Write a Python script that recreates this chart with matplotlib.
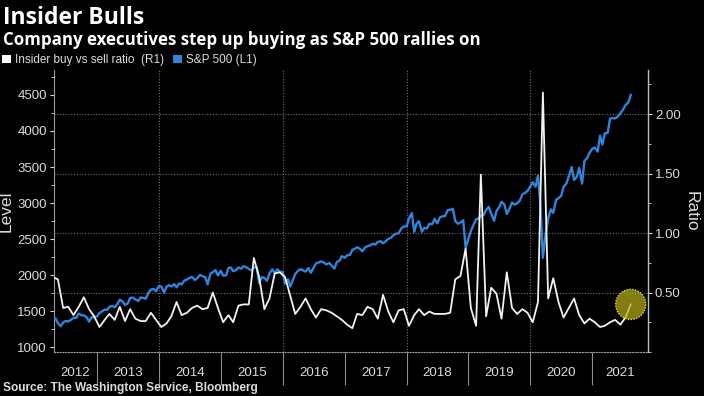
import matplotlib
matplotlib.use("Agg")
import matplotlib.pyplot as plt
from matplotlib.patches import Patch
import pandas as pd

# S&P 500 level, sampled on the 1st and 15th of each month (Apr 2012 - Aug 2021)
sp_2012 = [1408, 1370, 1398, 1330, 1290, 1342, 1362, 1356, 1379, 1405, 1406, 1465,
           1441, 1440, 1412, 1353, 1416, 1413]
sp_2013 = [1426, 1472, 1498, 1520, 1515, 1560, 1569, 1552, 1598, 1658, 1631, 1585,
           1606, 1682, 1686, 1661, 1640, 1688, 1682, 1670, 1757, 1798, 1806, 1775]
sp_2014 = [1848, 1840, 1755, 1838, 1859, 1841, 1872, 1830, 1884, 1870, 1924, 1937,
           1960, 1973, 1931, 1955, 2003, 1984, 1972, 1870, 2018, 2040, 2068, 1995]
sp_2015 = [2059, 1992, 1995, 2097, 2105, 2053, 2068, 2106, 2086, 2122, 2107, 2084,
           2063, 2107, 2104, 1890, 1972, 1960, 1920, 2023, 2079, 2023, 2080, 2043]
sp_2016 = [2044, 1880, 1940, 1840, 1932, 2015, 2060, 2081, 2065, 2047, 2097, 2030,
           2099, 2161, 2174, 2190, 2171, 2147, 2168, 2133, 2090, 2180, 2199, 2262]
sp_2017 = [2239, 2274, 2279, 2349, 2364, 2385, 2363, 2329, 2384, 2400, 2412, 2433,
           2423, 2459, 2470, 2440, 2472, 2500, 2519, 2553, 2575, 2579, 2648, 2675]
sp_2018 = [2674, 2786, 2860, 2600, 2714, 2747, 2600, 2656, 2648, 2711, 2705, 2779,
           2718, 2798, 2816, 2818, 2902, 2905, 2920, 2750, 2712, 2730, 2760, 2380]
sp_2019 = [2507, 2610, 2704, 2775, 2784, 2822, 2834, 2905, 2946, 2850, 2752, 2887,
           2942, 3014, 2980, 2848, 2926, 3007, 2977, 2996, 3038, 3120, 3141, 3168]
sp_2020 = [3231, 3289, 3226, 3380, 2954, 2240, 2585, 2783, 2912, 2863, 3044, 3066,
           3100, 3226, 3271, 3372, 3500, 3320, 3363, 3488, 3270, 3585, 3622, 3695]
sp_2021 = [3756, 3768, 3714, 3934, 3811, 3968, 3973, 4170, 4181, 4173, 4204, 4246,
           4298, 4360, 4395, 4500]

# Insider buy vs sell ratio, monthly (Apr 2012 - Aug 2021)
ratio_2012 = [0.63, 0.61, 0.37, 0.38, 0.31, 0.38, 0.46, 0.36, 0.30]
ratio_2013 = [0.21, 0.27, 0.32, 0.27, 0.38, 0.26, 0.36, 0.28, 0.26, 0.26, 0.33, 0.27]
ratio_2014 = [0.21, 0.24, 0.30, 0.42, 0.31, 0.33, 0.37, 0.39, 0.36, 0.37, 0.50, 0.37]
ratio_2015 = [0.25, 0.31, 0.25, 0.39, 0.40, 0.40, 0.79, 0.63, 0.36, 0.45, 0.66, 0.67]
ratio_2016 = [0.63, 0.47, 0.32, 0.38, 0.45, 0.36, 0.29, 0.36, 0.35, 0.33, 0.30, 0.27]
ratio_2017 = [0.23, 0.20, 0.32, 0.31, 0.38, 0.36, 0.28, 0.48, 0.34, 0.25, 0.35, 0.36]
ratio_2018 = [0.22, 0.31, 0.36, 0.31, 0.34, 0.32, 0.32, 0.32, 0.33, 0.61, 0.64, 0.87]
ratio_2019 = [0.37, 0.22, 1.49, 0.30, 0.54, 0.49, 0.28, 0.67, 0.37, 0.32, 0.36, 0.33]
ratio_2020 = [0.25, 0.42, 2.18, 0.45, 0.62, 0.42, 0.29, 0.37, 0.45, 0.31, 0.24, 0.28]
ratio_2021 = [0.25, 0.21, 0.22, 0.25, 0.27, 0.23, 0.29, 0.40]

years = list(range(2012, 2022))

sp500 = (sp_2012 + sp_2013 + sp_2014 + sp_2015 + sp_2016 + sp_2017 + sp_2018
         + sp_2019 + sp_2020 + sp_2021)
ratio = (ratio_2012 + ratio_2013 + ratio_2014 + ratio_2015 + ratio_2016 + ratio_2017
         + ratio_2018 + ratio_2019 + ratio_2020 + ratio_2021)

sp_dates = pd.date_range("2012-04-01", "2021-08-31", freq="SMS")
ratio_dates = pd.date_range("2012-04-01", "2021-08-01", freq="MS") + pd.Timedelta(days=14)

BG = "black"
TXT = "#dcdcdc"
GRID = "#6e6e6e"
BLUE = "#3184dc"

plt.rcParams["font.family"] = ["Liberation Sans Narrow", "Liberation Sans", "DejaVu Sans"]

fig = plt.figure(figsize=(7.04, 3.96), dpi=100, facecolor=BG)
ax = fig.add_axes([54 / 704, 1 - 352 / 396, (648 - 54) / 704, (352 - 70) / 396])
ax.set_facecolor(BG)
ax2 = ax.twinx()

# S&P 500 on the left axis
ax.plot(sp_dates, sp500, color=BLUE, lw=1.7, zorder=3)
ax.set_ylim(931, 4847)
ax.set_yticks(range(1000, 5000, 500))
ax.set_yticks(range(1250, 4850, 500), minor=True)
ax.set_ylabel("Level", color=TXT, fontsize=12.5)
ax.yaxis.set_label_coords(-0.068, 0.5)

# ratio on the right axis
ax2.plot(ratio_dates, ratio, color="#f2f2f2", lw=1.3, zorder=3)
ax2.set_ylim(0, 2.37)
ax2.set_yticks([0.5, 1.0, 1.5, 2.0])
ax2.set_yticks([0.0, 0.25, 0.75, 1.25, 1.75, 2.25], minor=True)
ax2.set_yticklabels(["0.50", "1.00", "1.50", "2.00"])
ax2.set_ylabel("Ratio", color=TXT, fontsize=12.5, rotation=270, va="center")
ax2.yaxis.set_label_coords(1.072, 0.5)
ax2.grid(axis="y", which="major", color=GRID, lw=0.8, linestyle=(0, (1, 1.5)))

# highlight the latest reading
ax2.scatter([ratio_dates[-1]], [ratio[-1]], s=470, facecolor=(0.71, 0.68, 0.1, 0.72),
            edgecolor="#e2d840", linewidth=1.0, linestyle=(0, (1, 1)), zorder=5)

# x axis: year labels centred in each year, separators at year starts
x_start = pd.Timestamp("2012-04-22")
x_end = pd.Timestamp("2021-11-25")
ax.set_xlim(x_start, x_end)
year_starts = [pd.Timestamp(f"{y}-01-01") for y in years]
label_pos = []
for y in years:
    a = max(pd.Timestamp(f"{y}-01-01"), x_start)
    b = min(pd.Timestamp(f"{y + 1}-01-01"), x_end)
    label_pos.append(a + (b - a) / 2)
ax.set_xticks(label_pos)
ax.set_xticklabels([str(y) for y in years])
ax.set_xticks(year_starts[1:], minor=True)
ax.tick_params(axis="x", which="major", length=0, pad=11, colors=TXT, labelsize=9.5)
ax.tick_params(axis="x", which="minor", length=24, width=0.8, color="#8c8c8c")
for y in [2014, 2016, 2018, 2020]:
    ax.axvline(pd.Timestamp(f"{y}-01-01"), color=GRID, lw=0.8, linestyle=(0, (1, 1.5)), zorder=1)

ax.tick_params(axis="y", which="major", length=3, colors=TXT, labelsize=9.5, pad=2)
ax.tick_params(axis="y", which="minor", length=2, color=TXT)
ax2.tick_params(axis="y", which="major", length=3, colors=TXT, labelsize=9.5, pad=2)
ax2.tick_params(axis="y", which="minor", length=2, color=TXT)

for a in (ax, ax2):
    a.spines["top"].set_visible(False)
ax2.spines["left"].set_visible(False)
ax2.spines["bottom"].set_visible(False)
ax.spines["right"].set_visible(False)
ax.spines["left"].set_color("#9a9a9a")
ax.spines["left"].set_linewidth(0.8)
ax.spines["bottom"].set_color("#9a9a9a")
ax.spines["bottom"].set_linewidth(0.8)
ax.spines["bottom"].set_linestyle((0, (1, 1.5)))
ax2.spines["right"].set_color("#bdbdbd")
ax2.spines["right"].set_linewidth(1.0)

# titles, legend, source
fig.text(0.004, 0.985, "Insider Bulls", color="white", fontsize=16.5, fontweight="bold",
         family=["Open Sans", "DejaVu Sans"], va="top")
fig.text(0.004, 0.922, "Company executives step up buying as S&P 500 rallies on",
         color="white", fontsize=12.2, fontweight="bold", family=["Open Sans", "DejaVu Sans"],
         va="top")
handles = [Patch(facecolor="white", edgecolor="none"), Patch(facecolor=BLUE, edgecolor="none")]
leg = fig.legend(handles, ["Insider buy vs sell ratio  (R1)", "S&P 500 (L1)"],
                 loc="center left", bbox_to_anchor=(0.0, 0.848), ncol=2, frameon=False,
                 fontsize=8.5, handlelength=0.75, handleheight=0.75, handletextpad=0.3,
                 columnspacing=0.8, borderaxespad=0, borderpad=0.2)
for t in leg.get_texts():
    t.set_color(TXT)
fig.text(0.004, 0.02, "Source: The Washington Service, Bloomberg", color=TXT,
         fontsize=8.6, fontweight="bold", va="center")

fig.savefig("out.png", dpi=100, facecolor=BG)
